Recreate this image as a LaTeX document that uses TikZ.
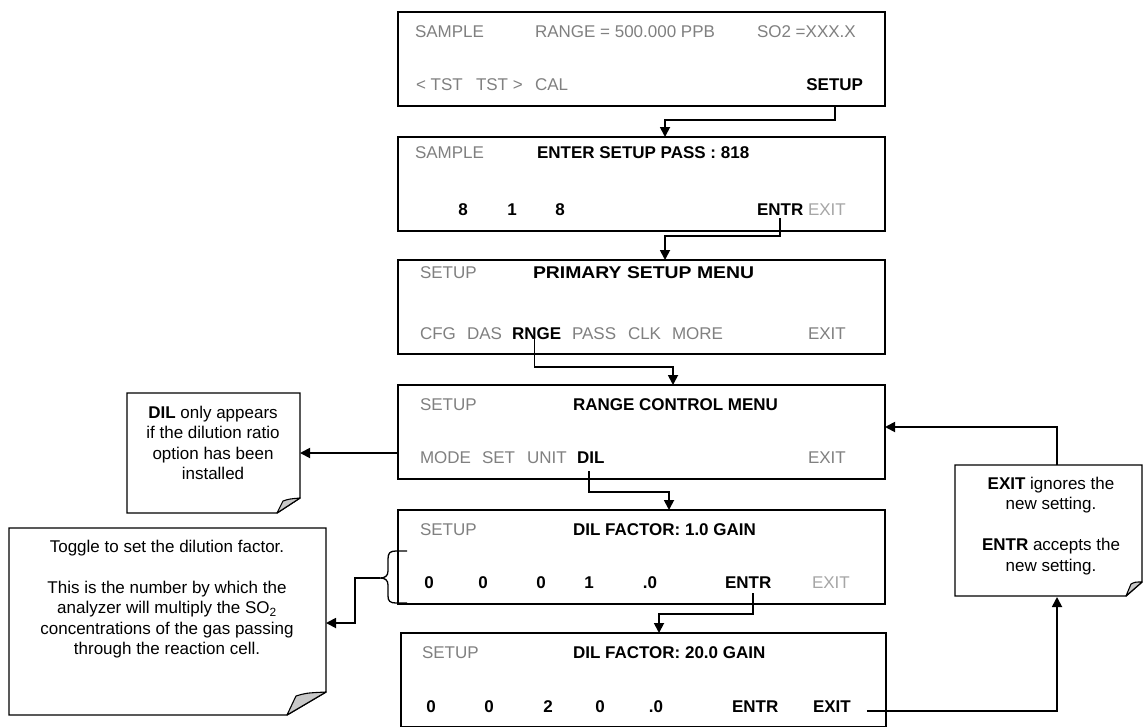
\documentclass[tikz,border=0pt]{standalone}
\usepackage{fontspec}
\setmainfont{Liberation Sans}
\usetikzlibrary{arrows.meta,calc}
\definecolor{dimgray}{RGB}{128,128,128}
\definecolor{faintgray}{RGB}{166,166,166}
\definecolor{foldgray}{RGB}{200,200,200}
\newcommand\lcdfont{\fontsize{17}{20.5}\selectfont}
\begin{document}
\begin{tikzpicture}[x=1pt,y=-1pt,
 screen/.style={draw=black, line width=1.4pt, anchor=north west, minimum width=487pt, minimum height=94pt, inner sep=0pt, outer sep=0pt},
 txt/.style={font=\lcdfont, inner sep=0pt, outer sep=0pt, anchor=base west},
 dimtxt/.style={txt, text=dimgray},
 boldtxt/.style={txt, text=black, font=\lcdfont\bfseries},
 fainttxt/.style={txt, text=faintgray},
 conn/.style={line width=1.8pt, -{Triangle[length=10pt,width=10pt]}},
 note/.style={draw=black, line width=1.4pt, fill=white, line join=miter},
 fold/.style={draw=black, line width=1.1pt, fill=foldgray, line join=round},
 notetxt/.style={font=\lcdfont, align=center, inner sep=0pt},
 bracestyle/.style={line width=1.3pt}]

\clip (0,0) rectangle (1143,726);
\fill[white] (0,0) rectangle (1143,726);

% ---------- screen 1
\node[screen] (s1) at (398,12) {};
\node[dimtxt] (s1a) at (415,37) {SAMPLE};
\node[dimtxt] (s1b) at (535,37) {RANGE = 500.000 PPB};
\node[dimtxt] (s1c) at (757,37) {SO2 =XXX.X};
\node[dimtxt] (s1d) at (416,90) {< TST};
\node[dimtxt] (s1f) at (476,90) {TST >};
\node[dimtxt] (s1h) at (535,90) {CAL};
\node[boldtxt, anchor=base east] (s1setup) at (863,90) {SETUP};

% ---------- screen 2
\node[screen] (s2) at (398,137) {};
\node[dimtxt] (s2a) at (415,158) {SAMPLE};
\node[boldtxt] (s2b) at (537,158) {ENTER SETUP PASS : 818};
\node[boldtxt, anchor=base] (s2c) at (463,215) {8};
\node[boldtxt, anchor=base] (s2d) at (512,215) {1};
\node[boldtxt, anchor=base] (s2e) at (560,215) {8};
\node[boldtxt] (s2entr) at (757,215) {ENTR};
\node[fainttxt] (s2exit) at (808,215) {EXIT};

% ---------- screen 3
\node[screen] (s3) at (398,260) {};
\node[dimtxt] (s3a) at (420,278) {SETUP};
\node[boldtxt] (s3b) at (533,278) {\scalebox{1.14}[1]{PRIMARY SETUP MENU}};
\node[dimtxt] (s3c) at (420,339) {CFG};
\node[dimtxt] (s3d) at (467,339) {DAS};
\node[boldtxt] (s3rnge) at (512,339) {RNGE};
\node[dimtxt] (s3e) at (572,339) {PASS};
\node[dimtxt] (s3f) at (628,339) {CLK};
\node[dimtxt] (s3g) at (672,339) {MORE};
\node[dimtxt] (s3exit) at (808,339) {EXIT};

% ---------- screen 4
\node[screen] (s4) at (398,385) {};
\node[dimtxt] (s4a) at (420,410) {SETUP};
\node[boldtxt] (s4b) at (573,410) {RANGE CONTROL MENU};
\node[dimtxt] (s4c) at (420,463) {MODE};
\node[dimtxt] (s4d) at (482,463) {SET};
\node[dimtxt] (s4e) at (527,463) {UNIT};
\node[boldtxt] (s4dil) at (577,463) {DIL};
\node[dimtxt] (s4exit) at (808,463) {EXIT};

% ---------- screen 5
\node[screen] (s5) at (398,510) {};
\node[dimtxt] (s5a) at (420,535) {SETUP};
\node[boldtxt] (s5b) at (573,535) {DIL FACTOR: 1.0 GAIN};
\node[boldtxt, anchor=base] (s5c) at (429,588) {0};
\node[boldtxt, anchor=base] (s5d) at (483,588) {0};
\node[boldtxt, anchor=base] (s5e) at (541,588) {0};
\node[boldtxt, anchor=base] (s5f) at (589,588) {1};
\node[boldtxt, anchor=base] (s5g) at (650,588) {.0};
\node[boldtxt] (s5entr) at (725,588) {ENTR};
\node[fainttxt] (s5exit) at (812,588) {EXIT};

% ---------- screen 6
\node[screen, minimum width=485pt] (s6) at (401,633) {};
\node[dimtxt] (s6a) at (422,658) {SETUP};
\node[boldtxt] (s6b) at (573,658) {DIL FACTOR: 20.0 GAIN};
\node[boldtxt, anchor=base] (s6c) at (431,712) {0};
\node[boldtxt, anchor=base] (s6d) at (489,712) {0};
\node[boldtxt, anchor=base] (s6e) at (548,712) {2};
\node[boldtxt, anchor=base] (s6f) at (600,712) {0};
\node[boldtxt, anchor=base] (s6g) at (656,712) {.0};
\node[boldtxt] (s6entr) at (732,712) {ENTR};
\node[boldtxt] (s6exit) at (813,712) {EXIT};

% ---------- notes
\draw[note] (127,393) -- (300,393) -- (300,498) -- (277,513) -- (127,513) -- cycle;
\draw[fold] (277,513) -- (283,501) .. controls (289,499) .. (300,498) -- cycle;
\node[notetxt] (dilnote) at (213,443) {\textbf{DIL} only appears\\if the dilution ratio\\option has been\\installed};

\draw[note] (9,528) -- (326,528) -- (326,692) -- (287,715) -- (9,715) -- cycle;
\draw[fold] (287,715) -- (296,696) .. controls (306,693) .. (326,692) -- cycle;
\node[notetxt] (togglenote) at (167,599) {Toggle to set the dilution factor.\\[20.5pt]This is the number by which the\\analyzer will multiply the SO\textsubscript{2}\\concentrations of the gas passing\\through the reaction cell.};

\draw[note] (955,465) -- (1142,465) -- (1142,582) -- (1126,596) -- (955,596) -- cycle;
\draw[fold] (1126,596) -- (1131,584) .. controls (1135,582) .. (1142,582) -- cycle;
\node[notetxt] (exitnote) at (1051,526) {\textbf{EXIT} ignores the\\new setting.\\[20.5pt]\textbf{ENTR} accepts the\\new setting.};

% ---------- brace
\draw[bracestyle] (407,551) -- (396,551) .. controls (390,551) and (388,553) .. (388,559) -- (388,571) .. controls (388,576) and (385,578) .. (380,578) .. controls (385,578) and (388,580) .. (388,585) -- (388,596) .. controls (388,601) and (390,603) .. (396,603) -- (407,603);

% ---------- connector end points
\coordinate (a2) at (665,137);
\coordinate (a3) at (665,260);
\coordinate (a4) at (673,385);
\coordinate (a5) at (669,510);
\coordinate (a6) at (659,633);
\coordinate (exitfoot) at (1057,597);
\coordinate (exittop) at (1057,465);
\coordinate (s4in) at (885,427);
\coordinate (dilin) at (300,453);
\coordinate (bracetip) at (380,578);
\coordinate (togglein) at (326,623);

% ---------- connectors
\draw[conn] (s1.south -| s1setup) -- ++(0,14) -| (a2);
\draw[conn] ($(s2entr.south)+(0,3)$) -- ++(0,18) -| (a3);
\draw[conn] ($(s3rnge.base)+(-2,0)$) -- ++(0,28) -| (a4);
\draw[conn] ($(s4dil.base)+(-2,8)$) -- ++(0,21) -| (a5);
\draw[conn] ($(s5entr.base)+(5,5)$) -- ++(0,21) -| (a6);
\draw[conn] ($(s6exit.base east)+(16,-1)$) -| (exitfoot);
\draw[conn] (exittop) |- (s4in);
\draw[conn] (s4.west |- dilin) -- (dilin);
\draw[conn] (bracetip) -- ++(-25,0) |- (togglein);
\end{tikzpicture}
\end{document}
